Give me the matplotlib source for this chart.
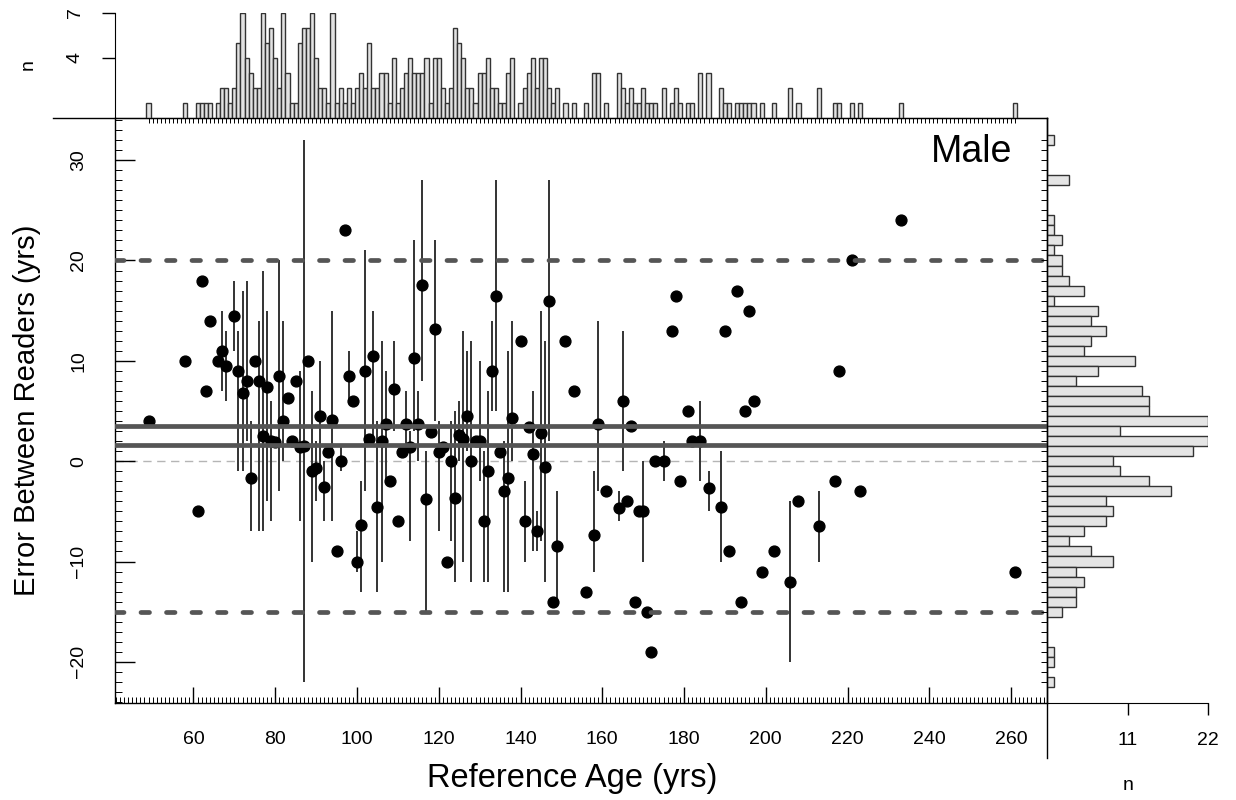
import numpy as np
import matplotlib
matplotlib.use('Agg')
from matplotlib import pyplot as plt
from matplotlib.ticker import MultipleLocator

plt.rcParams['font.family'] = ['Liberation Sans', 'DejaVu Sans']

# mean error between readers for each reference age, with min/max of the readings
ref_age = [49, 58, 61, 62, 63, 64, 66, 67, 68, 70, 71, 72, 73, 74, 75, 76, 77, 78, 79, 80,
           81, 82, 83, 84, 85, 86, 87, 88, 89, 90, 91, 92, 93, 94, 95, 96, 97, 98, 99, 100,
           101, 102, 103, 104, 105, 106, 107, 108, 109, 110, 111, 112, 113, 114, 115, 116, 117, 118, 119, 120,
           121, 122, 123, 124, 125, 126, 127, 128, 129, 130, 131, 132, 133, 134, 135, 136, 137, 138, 140, 141,
           142, 143, 144, 145, 146, 147, 148, 149, 151, 153, 156, 158, 159, 161, 164, 165, 166, 167, 168, 169,
           170, 171, 172, 173, 175, 177, 178, 179, 181, 182, 184, 186, 189, 190, 191, 193, 194, 195, 196, 197,
           199, 202, 206, 208, 213, 217, 218, 221, 223, 233, 261]
err_mean = [4.0, 10.0, -5.0, 18.0, 7.0, 14.0, 10.0, 11.0, 9.5, 14.5, 9.0, 6.8, 8.0, -1.7, 10.0, 8.0, 2.5, 7.4, 2.0, 1.9,
            8.5, 4.0, 6.3, 2.0, 8.0, 1.4, 1.5, 10.0, -1.0, -0.7, 4.5, -2.6, 0.9, 4.1, -9.0, 0.0, 23.0, 8.5, 6.0, -10.0,
            -6.4, 9.0, 2.2, 10.5, -4.6, 2.0, 3.7, -2.0, 7.2, -6.0, 0.9, 3.7, 1.4, 10.3, 3.7, 17.6, -3.8, 2.9, 13.2, 0.9,
            1.4, -10.0, 0.0, -3.7, 2.6, 2.2, 4.5, 0.0, 2.0, 2.0, -6.0, -1.0, 9.0, 16.5, 0.9, -3.0, -1.7, 4.3, 12.0, -6.0,
            3.4, 0.7, -7.0, 2.8, -0.6, 16.0, -14.0, -8.5, 12.0, 7.0, -13.0, -7.4, 3.7, -3.0, -4.7, 6.0, -4.0, 3.5, -14.0, -5.0,
            -5.0, -15.0, -19.0, 0.0, 0.0, 13.0, 16.5, -2.0, 5.0, 2.0, 2.0, -2.7, -4.6, 13.0, -9.0, 17.0, -14.0, 5.0, 15.0, 6.0,
            -11.0, -9.0, -12.0, -4.0, -6.5, -2.0, 9.0, 20.0, -3.0, 24.0, -11.0]
nan = np.nan
err_lo = [nan, nan, nan, nan, nan, nan, nan, 7, 6, 11, -1, -1, 2, -7, nan, -7, -7, -4, -6, nan,
          -3, 0, nan, nan, nan, -6, -22, nan, -10, -4, -1, -6, nan, -6, nan, -1, nan, 6, nan, -11,
          -13, -3, nan, 2, -13, -10, -2, nan, 3, nan, nan, 1, -8, 3, 0, 8, -15, nan, 4, -7,
          nan, nan, -8, -12, 0, -10, 1, -12, nan, -2, -12, -12, 5, 5, nan, -13, -13, 0, nan, -10,
          nan, -9, -9, -8, -12, 2, nan, -14, nan, nan, nan, -11, -3, nan, -6, -1, nan, nan, nan, nan,
          -10, nan, nan, nan, -2, nan, nan, nan, nan, nan, -2, -5, -10, nan, nan, nan, nan, nan, nan, nan,
          nan, nan, -20, nan, -10, nan, nan, nan, nan, nan, nan]
err_hi = [nan, nan, nan, nan, nan, nan, nan, 15, 13, 18, 13, 17, 18, 4, nan, 14, 19, 15, 6, nan,
          20, 14, nan, nan, nan, 9, 32, nan, 7, 2, 10, 0, nan, 15, nan, 1.5, nan, 11, nan, -7,
          -2, 21, nan, 15, 4, 12, 9, nan, 12, nan, nan, 7, 3, 22, 7, 28, 1, nan, 22, 4,
          nan, nan, 4, 5, 6, 13, 11, 12, nan, 10, 1, 7, 14, 28, nan, 2, 11, 14, nan, -2,
          nan, 7, -5, 15, 12, 28, nan, -3, nan, nan, nan, -1, 14, nan, -3, 13, nan, nan, nan, nan,
          0, nan, nan, nan, 2, nan, nan, nan, nan, nan, 6, -1, 1, nan, nan, nan, nan, nan, nan, nan,
          nan, nan, -4, nan, -3, nan, nan, nan, nan, nan, nan]

# number of readings per reference age (top histogram)
age_bins = [49, 58, 61, 62, 63, 64, 66, 67, 68, 69, 70, 71, 72, 73, 74, 75, 76, 77, 78, 79,
            80, 81, 82, 83, 84, 85, 86, 87, 88, 89, 90, 91, 92, 93, 94, 95, 96, 97, 98, 99,
            100, 101, 102, 103, 104, 105, 106, 107, 108, 109, 110, 111, 112, 113, 114, 115, 116, 117, 118, 119,
            120, 121, 122, 123, 124, 125, 126, 127, 128, 129, 130, 131, 132, 133, 134, 135, 136, 137, 138, 140,
            141, 142, 143, 144, 145, 146, 147, 148, 149, 151, 153, 156, 158, 159, 161, 164, 165, 166, 167, 168,
            169, 170, 171, 172, 173, 175, 177, 178, 179, 181, 182, 184, 186, 189, 190, 191, 193, 194, 195, 196,
            197, 199, 202, 206, 208, 213, 217, 218, 221, 223, 233, 261]
age_counts = [1, 1, 1, 1, 1, 1, 1, 2, 2, 1, 2, 5, 7, 4, 3, 2, 2, 7, 5, 6,
              4, 2, 7, 3, 1, 1, 5, 6, 6, 7, 4, 2, 2, 1, 7, 1, 2, 1, 2, 1,
              2, 3, 2, 5, 2, 2, 3, 3, 1, 4, 1, 2, 3, 4, 3, 3, 3, 4, 1, 4,
              4, 2, 1, 2, 6, 5, 4, 2, 2, 1, 3, 3, 4, 2, 2, 1, 1, 3, 4, 1,
              2, 3, 4, 2, 4, 4, 2, 1, 2, 1, 1, 1, 3, 3, 1, 3, 2, 1, 2, 1,
              1, 2, 1, 1, 1, 2, 1, 2, 1, 1, 1, 3, 3, 2, 1, 1, 1, 1, 1, 1,
              1, 1, 1, 2, 1, 2, 1, 1, 1, 1, 1, 1]

# distribution of the reader differences (right histogram)
err_bins = [32, 28, 24, 23, 22, 21, 20, 19, 18, 17, 16, 15, 14, 13, 12, 11, 10, 9, 8, 7,
            6, 5, 4, 3, 2, 1, 0, -1, -2, -3, -4, -5, -6, -7, -8, -9, -10, -11, -12, -13,
            -14, -15, -19, -20, -22]
err_counts = [1, 3, 1, 1, 2, 1, 2, 2, 3, 5, 1, 7, 6, 8, 6, 5, 12, 7, 4, 13,
              14, 14, 22, 10, 22, 20, 9, 10, 14, 17, 8, 9, 8, 5, 3, 6, 9, 4, 5, 4,
              4, 2, 1, 1, 1]

bias_lines = [3.55, 1.6]
limit_lines = [20, -15]

W, H = 1236, 800
def px_rect(l, t, r, b):
    return [l / W, 1 - b / H, (r - l) / W, (b - t) / H]

fig = plt.figure(figsize=(W / 100, H / 100), dpi=100)
ax = fig.add_axes(px_rect(115, 118, 1047, 703))
axt = fig.add_axes(px_rect(115, 12.5, 1047, 118))
axr = fig.add_axes(px_rect(1047, 118, 1208, 703))

xlim = (40.8, 268.8)
ylim = (-24.1, 34.2)

# main panel
ax.set_xlim(xlim)
ax.set_ylim(ylim)
ax.axhline(0, color='#b5b5b5', lw=1.0, ls=(0, (6, 4)), zorder=1)
for y in limit_lines:
    ax.axhline(y, color='#555555', lw=3.4, ls=(0, (1.8, 3.6)), dash_capstyle='round', zorder=4)
for y in bias_lines:
    ax.axhline(y, color='#555555', lw=3.4, zorder=4)

lo = np.array(err_lo, dtype=float)
hi = np.array(err_hi, dtype=float)
has_bar = ~np.isnan(lo)
ax.vlines(np.array(ref_age)[has_bar], lo[has_bar], hi[has_bar], color='#333333', lw=1.4, zorder=2)
ax.plot(ref_age, err_mean, 'o', color='black', ms=7.8, mec='black', zorder=3)

ax.xaxis.set_major_locator(MultipleLocator(20))
ax.xaxis.set_minor_locator(MultipleLocator(1))
ax.yaxis.set_major_locator(MultipleLocator(10))
ax.yaxis.set_minor_locator(MultipleLocator(1))
ax.tick_params(axis='x', which='major', direction='in', length=11.5, width=1, labelsize=14, pad=20)
ax.tick_params(axis='x', which='minor', direction='in', length=4.3, width=0.7)
ax.tick_params(axis='y', which='major', direction='in', length=14.4, width=1, labelsize=14, pad=20,
               labelrotation=90)
ax.tick_params(axis='y', which='minor', direction='in', length=5, width=0.7)
for lab in ax.get_yticklabels():
    lab.set_va('center')
for s in ax.spines.values():
    s.set_linewidth(1.0)

fig.text(1012.7 / W, 1 - 162.3 / H, 'Male', ha='right', va='baseline', fontsize=27)
fig.text(27 / W, 1 - 410 / H, 'Error Between Readers (yrs)', rotation=90, ha='center', va='center', fontsize=21)
fig.text(572 / W, 1 - 778 / H, 'Reference Age (yrs)', ha='center', va='center', fontsize=23.5)

# top histogram
axt.bar(age_bins, age_counts, width=1, color='#e2e2e2', edgecolor='#333333', lw=1.0)
axt.set_xlim(xlim)
axt.set_ylim(0, 7)
axt.set_facecolor('none')
axt.spines['top'].set_visible(False)
axt.spines['right'].set_visible(False)
axt.set_yticks([4, 7])
axt.tick_params(axis='y', direction='out', length=9.4, width=1, labelsize=14, pad=13, labelrotation=90)
for lab in axt.get_yticklabels():
    lab.set_va('center')
axt.set_xticks(np.arange(min(age_bins), max(age_bins) + 1))
axt.tick_params(axis='x', direction='out', length=3.6, width=0.7, labelbottom=False)
axt.plot([-0.066, 0], [0, 0], transform=axt.transAxes, color='black', lw=1.0, clip_on=False)
fig.text(28 / W, 1 - 65 / H, 'n', rotation=90, ha='center', va='center', fontsize=14)

# right histogram
axr.barh(err_bins, err_counts, height=1, color='#e5e5e5', edgecolor='#333333', lw=1.0)
axr.set_xlim(0, 22)
axr.set_ylim(ylim)
axr.set_facecolor('none')
for side in ['top', 'right', 'left']:
    axr.spines[side].set_visible(False)
axr.plot([0, 0], [-0.094, 1], transform=axr.transAxes, color='black', lw=1.0, clip_on=False)
axr.set_xticks([11, 22])
axr.tick_params(axis='x', direction='out', length=8.6, width=1, labelsize=14, pad=12)
axr.set_yticks(np.arange(-22, 33))
axr.tick_params(axis='y', direction='out', length=4.3, width=0.7, labelleft=False)
fig.text(1128 / W, 1 - 785 / H, 'n', ha='center', va='center', fontsize=14)

plt.savefig('out.png', dpi=100)
